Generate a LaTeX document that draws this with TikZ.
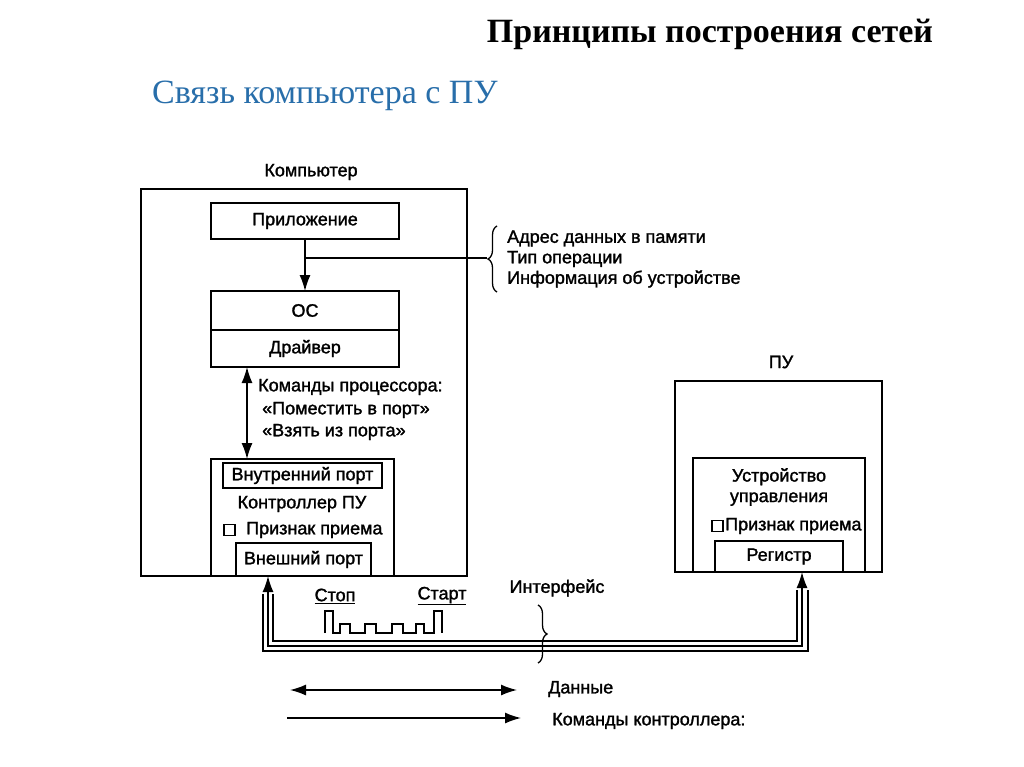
\documentclass[tikz,border=0pt]{standalone}
\usepackage{fontspec}
\setmainfont{Liberation Serif}
\newfontfamily\dsans[FakeBold=1.5]{Liberation Sans}
\usetikzlibrary{arrows.meta,decorations.pathreplacing}
\definecolor{subblue}{RGB}{40,110,170}
\tikzset{
  box/.style={draw, line width=1.6pt, inner sep=0pt, outer sep=0pt},
  lbl/.style={font=\dsans\fontsize{18}{20.5}\selectfont, inner sep=0pt},
  conn/.style={line width=1.4pt},
  arr/.style={conn, -{Latex[length=16pt,width=11pt]}},
  darr/.style={conn, {Latex[length=16pt,width=11pt]}-{Latex[length=16pt,width=11pt]}},
  brc/.style={line width=1.3pt, decorate, decoration={brace, amplitude=9pt}},
  chk/.style={draw, line width=1.3pt, minimum width=11pt, minimum height=11pt, inner sep=0pt}
}
\begin{document}
\begin{tikzpicture}[x=1pt,y=-1pt]
\useasboundingbox (0,0) rectangle (1024,767);
% titles
\node[font=\bfseries\fontsize{34}{38}\selectfont, inner sep=0pt] (title) at (710,34) {Принципы построения сетей};
\node[font=\fontsize{34}{38}\selectfont, text=subblue, anchor=west, inner sep=0pt] (sub) at (152,96) {Связь компьютера с ПУ};

% computer
\node[lbl] (complbl) at (311,172) {Компьютер};
\node[box, minimum width=326pt, minimum height=387pt] (comp) at (304,382.5) {};
\node[box, lbl, minimum width=188pt, minimum height=36pt] (app) at (305,221) {Приложение};
\node[box, lbl, minimum width=188pt, minimum height=39pt] (os) at (305,310.5) {ОС};
\node[box, lbl, minimum width=188pt, minimum height=37pt] (drv) at (305,348.5) {Драйвер};
\draw[arr] (app.south) -- (os.north);
\coordinate (bj) at (305,258);
\coordinate (bt) at (487,258);
\draw[conn] (bj) -- (bt);
\coordinate (b1) at (497,292);
\coordinate (b2) at (497,226);
\draw[brc] (b1) -- (b2);
\node[lbl, anchor=west, align=left] (info) at (507,259) {Адрес данных в памяти\\Тип операции\\Информация об устройстве};

% controller
\node[box, minimum width=183pt, minimum height=117pt] (ctrl) at (302.5,517.5) {};
\node[box, lbl, minimum width=159pt, minimum height=25pt] (inport) at (302.5,475.5) {Внутренний порт};
\node[lbl] (ctrllbl) at (302,504) {Контроллер ПУ};
\node[chk] (chk1) at (229.5,530) {};
\node[lbl, anchor=west] (flag1) at (246,530) {Признак приема};
\node[box, lbl, minimum width=135pt, minimum height=33pt] (export) at (303.5,559.5) {Внешний порт};
\draw[darr] ([xshift=36pt]drv.south west) -- ([xshift=36pt]ctrl.north west);
\node[lbl, anchor=west] (cmd1) at (258,387) {Команды процессора:};
\node[lbl, anchor=west] (cmd2) at (262,410) {«Поместить в порт»};
\node[lbl, anchor=west] (cmd3) at (262,432) {«Взять из порта»};

% PU
\node[lbl] (pulbl) at (781,362) {ПУ};
\node[box, minimum width=207pt, minimum height=191pt] (pu) at (778.5,476.5) {};
\node[box, minimum width=172pt, minimum height=114pt] (cu) at (779,515) {};
\node[lbl, align=center] (culbl) at (779,487) {Устройство\\управления};
\node[chk] (chk2) at (717.5,526) {};
\node[lbl, anchor=west] (flag2) at (725,526) {Признак приема};
\node[box, lbl, minimum width=128pt, minimum height=31pt] (reg) at (779,556.5) {Регистр};

% interface lines
\coordinate (la) at (268,576);
\coordinate (ra) at (802,572);
\coordinate (lm) at (268,646);
\coordinate (rm) at (802,646);
\draw[darr] (la) -- (lm) -- (rm) -- (ra);
\coordinate (li) at (273,594);
\coordinate (ri) at (797,590);
\draw[conn] (li) -- (273,641) -- (797,641) -- (ri);
\coordinate (lo) at (263,594);
\coordinate (ro) at (808,590);
\draw[conn] (lo) -- (263,651) -- (808,651) -- (ro);

% waveform
\draw[line width=1.3pt] (325,633) -- (325,611) -- (333,611) -- (333,633) -- (340,633) -- (340,624) -- (350,624) -- (350,633)
  -- (365,633) -- (365,624) -- (376,624) -- (376,633) -- (392,633) -- (392,624) -- (403,624) -- (403,633)
  -- (416,633) -- (416,624) -- (424,624) -- (424,633) -- (434,633) -- (434,611) -- (442,611) -- (442,633);
\node[lbl] (stop) at (335,596) {\underline{Стоп}};
\node[lbl] (start) at (442,596) {\underline{Старт}};
\node[lbl] (iface) at (557,588) {Интерфейс};
\coordinate (i1) at (538,605);
\coordinate (i2) at (538,663);
\draw[brc] (i1) -- (i2);

% legend
\coordinate (l1a) at (290,690);
\coordinate (l1b) at (517,690);
\draw[darr] (l1a) -- (l1b);
\node[lbl, anchor=west] (data) at (548,689) {Данные};
\coordinate (l2a) at (287,718);
\coordinate (l2b) at (521,718);
\draw[arr] (l2a) -- (l2b);
\node[lbl, anchor=west] (ccmd) at (552,721) {Команды контроллера:};
\end{tikzpicture}
\end{document}
